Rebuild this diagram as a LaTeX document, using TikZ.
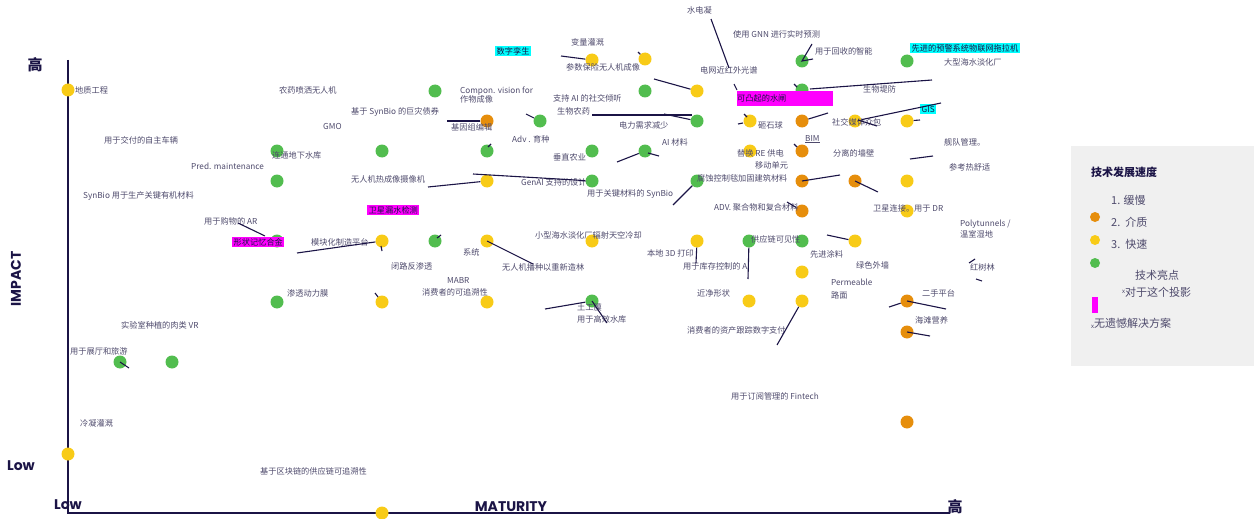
\documentclass[tikz,border=0pt]{standalone}
\usepackage{fontspec}
\setmainfont{Noto Sans CJK SC}
\newfontfamily\axf{Poppins}
\definecolor{cgreen}{RGB}{82,189,79}
\definecolor{cyellow}{RGB}{248,203,23}
\definecolor{corange}{RGB}{230,142,12}
\definecolor{clabel}{RGB}{78,74,108}
\definecolor{cline}{RGB}{27,20,70}
\definecolor{legbg}{RGB}{240,240,240}
\definecolor{hmag}{RGB}{255,0,255}
\definecolor{hcyan}{RGB}{0,255,255}
\tikzset{
  gdot/.style={circle,fill=cgreen,minimum size=13,inner sep=0},
  ydot/.style={circle,fill=cyellow,minimum size=13,inner sep=0},
  odot/.style={circle,fill=corange,minimum size=13,inner sep=0},
  lbl/.style={anchor=west,inner sep=0,text=clabel,font=\fontsize{8.2}{9}\selectfont},
  hlm/.style={lbl,fill=hmag,inner sep=1.5,text=cline},
  hlc/.style={lbl,fill=hcyan,inner sep=1.5,text=cline},
  ldr/.style={draw=cline,line width=1.1},
  axlbl/.style={inner sep=0,text=cline,font=\axf\bfseries\fontsize{14}{16}\selectfont},
  leg/.style={anchor=west,inner sep=0,text=clabel,font=\fontsize{11}{13}\selectfont},
}
\begin{document}
\begin{tikzpicture}[x=1pt,y=-1pt]
\useasboundingbox (0,0) rectangle (1254,519);
% legend background
\fill[legbg] (1071,146) rectangle (1254,366);
% axes
\draw[cline,line width=1.8] (68,60) -- (68,513) -- (950,513);
\node[axlbl,font=\bfseries\fontsize{15}{16}\selectfont] (hiy) at (35,65) {高};
\node[axlbl,font=\bfseries\fontsize{15}{16}\selectfont] (hix) at (955,507) {高};
\node[axlbl] (lowy) at (21,466) {Low};
\node[axlbl] (lowx) at (68,505) {Low};
\node[axlbl] (mat) at (511,507) {MATURITY};
\node[axlbl,rotate=90] (imp) at (16,279) {IMPACT};

% dots
\node[ydot] (d592x60) at (592,60) {};
\node[ydot] (d645x58) at (645,59) {};
\node[gdot] (d802x61) at (802,61) {};
\node[gdot] (d907x61) at (907,61) {};
\node[ydot] (d68x90) at (68,90) {};
\node[gdot] (d435x91) at (435,91) {};
\node[gdot] (d645x91) at (645,91) {};
\node[ydot] (d697x91) at (697,91) {};
\node[gdot] (d802x90) at (802,90) {};
\node[odot] (d487x121) at (487,121) {};
\node[gdot] (d540x121) at (540,121) {};
\node[gdot] (d697x121) at (697,121) {};
\node[ydot] (d750x121) at (750,121) {};
\node[odot] (d802x121) at (802,121) {};
\node[ydot] (d855x121) at (855,121) {};
\node[ydot] (d907x121) at (907,121) {};
\node[gdot] (d277x151) at (277,151) {};
\node[gdot] (d382x151) at (382,151) {};
\node[gdot] (d487x151) at (487,151) {};
\node[gdot] (d592x151) at (592,151) {};
\node[gdot] (d645x151) at (645,151) {};
\node[ydot] (d750x151) at (750,151) {};
\node[odot] (d802x151) at (802,151) {};
\node[gdot] (d277x181) at (277,181) {};
\node[ydot] (d487x181) at (487,181) {};
\node[gdot] (d592x181) at (592,181) {};
\node[gdot] (d697x181) at (697,181) {};
\node[odot] (d802x181) at (802,181) {};
\node[odot] (d855x181) at (855,181) {};
\node[ydot] (d907x181) at (907,181) {};
\node[odot] (d802x211) at (802,211) {};
\node[ydot] (d907x211) at (907,211) {};
\node[gdot] (d277x241) at (277,241) {};
\node[ydot] (d382x241) at (382,241) {};
\node[gdot] (d435x241) at (435,241) {};
\node[ydot] (d487x241) at (487,241) {};
\node[ydot] (d592x241) at (592,241) {};
\node[ydot] (d697x241) at (697,241) {};
\node[gdot] (d749x241) at (749,241) {};
\node[gdot] (d802x241) at (802,241) {};
\node[ydot] (d855x241) at (855,241) {};
\node[ydot] (d802x272) at (802,272) {};
\node[gdot] (d277x302) at (277,302) {};
\node[ydot] (d382x302) at (382,302) {};
\node[ydot] (d487x302) at (487,302) {};
\node[gdot] (d592x301) at (592,301) {};
\node[ydot] (d749x301) at (749,301) {};
\node[ydot] (d802x301) at (802,301) {};
\node[odot] (d907x301) at (907,301) {};
\node[odot] (d907x332) at (907,332) {};
\node[gdot] (d120x362) at (120,362) {};
\node[gdot] (d172x362) at (172,362) {};
\node[odot] (d907x422) at (907,422) {};
\node[ydot] (d68x454) at (68,454) {};
\node[ydot] (d382x513) at (382,513) {};

% labels
\node[lbl] (t1) at (75,90) {地质工程};
\node[lbl] (t2) at (279,90) {农药喷洒无人机};
\node[lbl] (t3) at (460,91) {Compon. vision for};
\node[lbl] (t4) at (460,99) {作物成像};
\node[lbl] (t5) at (351,112) {基于 SynBio 的巨灾债券};
\node[lbl] (t6) at (323,126) {GMO};
\node[lbl] (t7) at (451,127) {基因组编辑};
\node[lbl] (t8) at (104,140) {用于交付的自主车辆};
\node[lbl] (t9) at (512,139) {Adv . 育种};
\node[lbl] (t10) at (272,155) {连通地下水库};
\node[lbl] (t11) at (191,166) {Pred. maintenance};
\node[lbl] (t12) at (351,179) {无人机热成像摄像机};
\node[lbl] (t13) at (521,182) {GenAI 支持的设计};
\node[lbl] (t14) at (83,196) {SynBio 用于生产关键有机材料};
\node[lbl] (t15) at (204,221) {用于购物的 AR};
\node[hlm] (t16) at (367,210) {卫星漏水检测};
\node[hlm] (t17) at (232,242) {形状记忆合金};
\node[lbl] (t18) at (311,242) {模块化制造平台};
\node[lbl] (t19) at (463,252) {系统};
\node[lbl] (t20) at (391,266) {闭路反渗透};
\node[lbl] (t21) at (535,235) {小型海水淡化厂辐射天空冷却};
\node[lbl] (t22) at (502,267) {无人机播种以重新造林};
\node[lbl] (t23) at (447,280) {MABR};
\node[lbl] (t24) at (422,292) {消费者的可追溯性};
\node[lbl] (t25) at (287,293) {渗透动力膜};
\node[lbl] (t26) at (577,307) {土工膜};
\node[lbl] (t27) at (577,319) {用于高效水库};
\node[lbl] (t28) at (121,325) {实验室种植的肉类 VR};
\node[lbl] (t29) at (70,351) {用于展厅和旅游};
\node[lbl] (t30) at (80,423) {冷凝灌溉};
\node[lbl] (t31) at (260,471) {基于区块链的供应链可追溯性};
\node[lbl] (t32) at (731,396) {用于订阅管理的 Fintech};
\node[lbl] (t33) at (687,10) {水电凝};
\node[lbl] (t34) at (571,42) {变量灌溉};
\node[hlc] (t35) at (495,51) {数字孪生};
\node[lbl] (t36) at (566,67) {参数保险无人机成像};
\node[lbl] (t37) at (733,34) {使用 GNN 进行实时预测};
\node[lbl] (t38) at (815,51) {用于回收的智能};
\node[hlc] (t39) at (910,48) {先进的预警系统物联网拖拉机};
\node[lbl] (t40) at (944,62) {大型海水淡化厂};
\node[lbl] (t41) at (700,70) {电网近红外光谱};
\node[lbl] (t42) at (863,89) {生物堤防};
\node[lbl] (t43) at (553,98) {支持 AI 的社交倾听};
\fill[hmag] (737,91) rectangle (833,106);
\node[lbl,text=cline] (t44) at (737,98) {可凸起的水闸};
\node[lbl] (t45) at (557,111) {生物农药};
\node[hlc] (t46) at (920,109) {GIS};
\node[lbl] (t47) at (619,125) {电力需求减少};
\node[lbl] (t48) at (758,125) {砸石球};
\node[lbl] (t49) at (832,122) {社交媒体众包};
\node[lbl] (t50) at (805,139) {\underline{BIM}};
\node[lbl] (t51) at (662,142) {AI 材料};
\node[lbl] (t52) at (944,142) {舰队管理。};
\node[lbl] (t53) at (737,153) {替换 RE 供电};
\node[lbl] (t54) at (755,165) {移动单元};
\node[lbl] (t55) at (553,157) {垂直农业};
\node[lbl] (t56) at (833,153) {分离的墙壁};
\node[lbl] (t57) at (949,167) {参考热舒适};
\node[lbl] (t58) at (697,178) {腐蚀控制毯加固建筑材料};
\node[lbl] (t59) at (587,194) {用于关键材料的 SynBio};
\node[lbl] (t60) at (714,207) {ADV. 聚合物和复合材料};
\node[lbl] (t61) at (873,208) {卫星连接。用于 DR};
\node[lbl] (t62) at (960,224) {Polytunnels /};
\node[lbl] (t63) at (960,234) {温室湿地};
\node[lbl] (t64) at (751,239) {供应链可见性};
\node[lbl] (t65) at (647,253) {本地 3D 打印};
\node[lbl] (t66) at (810,254) {先进涂料};
\node[lbl] (t67) at (683,266) {用于库存控制的 AI};
\node[lbl] (t68) at (856,265) {绿色外墙};
\node[lbl] (t69) at (970,267) {红树林};
\node[lbl] (t70) at (831,282) {Permeable};
\node[lbl] (t71) at (831,295) {路面};
\node[lbl] (t72) at (697,293) {近净形状};
\node[lbl] (t73) at (922,293) {二手平台};
\node[lbl] (t74) at (687,330) {消费者的资产跟踪数字支付};
\node[lbl] (t75) at (915,320) {海滩营养};

% leader lines
\draw[ldr] (711,19) coordinate (a1) -- (729,68) coordinate (b1);
\draw[ldr] (d592x60) -- (561,56) coordinate (a2);
\draw[ldr] (d645x58) -- (638,52) coordinate (a3);
\draw[ldr] (812,44) coordinate (a4) -- (d802x61.center) -- (813,59) coordinate (b4);
\draw[ldr] (d697x91) -- (654,79) coordinate (a5);
\draw[ldr] (734,84) coordinate (a6) -- (737,90) coordinate (b6);
\draw[ldr] (794,84) coordinate (a7) -- (797,87) coordinate (b7);
\draw[ldr] (810,89) coordinate (a8) -- (932,80) coordinate (b8);
\draw[ldr] (d487x121) -- (447,121) coordinate (a9);
\draw[ldr] (d540x121) -- (526,114) coordinate (a10);
\draw[ldr] (692,115) coordinate (a11) -- (592,115) coordinate (b11);
\draw[ldr] (d697x121) -- (664,114) coordinate (c11);
\draw[ldr] (744,114) coordinate (a12) -- (747,117) coordinate (b12);
\draw[ldr] (738,124) coordinate (c12) -- (743,123) coordinate (e12);
\draw[ldr] (d802x121) -- (828,113) coordinate (a13);
\draw[ldr] (d855x121) -- (941,103) coordinate (a14);
\draw[ldr] (858,120) coordinate (b14) -- (877,126) coordinate (c14);
\draw[ldr] (d907x121) -- (920,120) coordinate (a15);
\draw[ldr] (794,144) coordinate (a16) -- (797,147) coordinate (b16);
\draw[ldr] (d645x151) -- (617,162) coordinate (a17);
\draw[ldr] (648,153) coordinate (b17) -- (659,156) coordinate (c17);
\draw[ldr] (488,147) coordinate (a18) -- (491,144) coordinate (b18);
\draw[ldr] (910,159) coordinate (a19) -- (933,156) coordinate (b19);
\draw[ldr] (d487x181) -- (428,187) coordinate (a20);
\draw[ldr] (d592x181) -- (473,174) coordinate (a21);
\draw[ldr] (d697x181) -- (673,205) coordinate (a22);
\draw[ldr] (d802x181.center) -- (840,175) coordinate (a23);
\draw[ldr] (d855x181.center) -- (878,192) coordinate (a24);
\draw[ldr] (d802x211) -- (787,202) coordinate (a25);
\draw[ldr] (238,223) coordinate (a26) -- (265,236) coordinate (b26);
\draw[ldr] (d382x241) -- (297,253) coordinate (a27);
\draw[ldr] (381,246) coordinate (a28) -- (382,251) coordinate (b28);
\draw[ldr] (437,238) coordinate (a29) -- (441,235) coordinate (b29);
\draw[ldr] (d487x241.center) -- (533,264) coordinate (a30);
\draw[ldr] (d697x241) -- (696,263) coordinate (a31);
\draw[ldr] (d749x241) -- (748,279) coordinate (a32);
\draw[ldr] (d855x241) -- (827,235) coordinate (a33);
\draw[ldr] (969,263) coordinate (a34) -- (975,259) coordinate (b34);
\draw[ldr] (976,279) coordinate (c34) -- (982,281) coordinate (e34);
\draw[ldr] (375,293) coordinate (a35) -- (378,297) coordinate (b35);
\draw[ldr] (d592x301) -- (545,309) coordinate (a36);
\draw[ldr] (d592x301.center) -- (607,323) coordinate (b36);
\draw[ldr] (d802x301) -- (777,345) coordinate (a37);
\draw[ldr] (d907x301) -- (889,307) coordinate (a38);
\draw[ldr] (d907x301.center) -- (946,309) coordinate (b38);
\draw[ldr] (d907x332.center) -- (930,336) coordinate (a39);
\draw[ldr] (d120x362.center) -- (129,368) coordinate (a40);

% legend
\node[anchor=west,inner sep=0,text=cline,font=\bfseries\fontsize{11}{13}\selectfont] (lt) at (1091,172) {技术发展速度};
\node[leg] (l1) at (1111,200) {1. 缓慢};
\node[odot,minimum size=10] (lo) at (1095,217) {};
\node[leg] (l2) at (1111,222) {2.\ \ 介质};
\node[ydot,minimum size=10] (ly) at (1095,240) {};
\node[leg] (l3) at (1111,244) {3.\ \ 快速};
\node[gdot,minimum size=10] (lg) at (1095,263) {};
\node[leg] (l4) at (1135,275) {技术亮点};
\node[leg] (l5) at (1122,292) {\raisebox{3pt}{\fontsize{6}{6}\selectfont x}对于这个投影};
\fill[hmag] (1092,297) rectangle (1098,313);
\node[leg] (l6) at (1091,323) {\raisebox{-1pt}{\fontsize{6}{6}\selectfont x}无遗憾解决方案};
\end{tikzpicture}
\end{document}
